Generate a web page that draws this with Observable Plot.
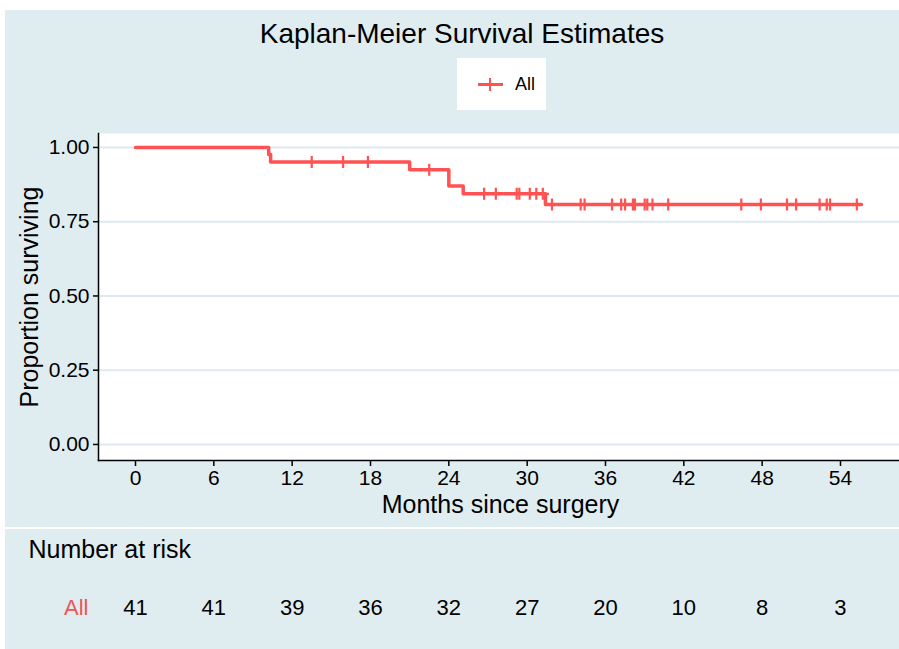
<!DOCTYPE html>
<html>
<head>
<meta charset="utf-8">
<script src="https://cdn.jsdelivr.net/npm/d3@7"></script>
<script src="https://cdn.jsdelivr.net/npm/@observablehq/plot@0.6"></script>
<style>
  html, body { margin: 0; padding: 0; background: #ffffff; }
  body { font-family: "Liberation Sans", Arial, Helvetica, sans-serif; }
  #panel { position: absolute; left: 5px; top: 10px; width: 894px; height: 639px; background: #ffffff; }
  #panel svg { display: block; }
  #gap { height: 2px; background: #ffffff; }
  #legend { position: absolute; left: 452px; top: 48px; width: 89px; height: 52px; background: #ffffff; }
  #legend .ln { position: absolute; left: 21px; top: 25px; width: 25px; height: 3px; background: #ff5252; }
  #legend .vt { position: absolute; left: 32px; top: 20px; width: 2px; height: 13px; background: #ff5252; }
  #legend span { position: absolute; left: 58px; top: 15px; font-size: 18px; line-height: 22px; color: #000; }
</style>
</head>
<body>
<div id="panel">
  <div id="topchart"></div>
  <div id="gap"></div>
  <div id="bottomchart"></div>
  <div id="legend"><div class="ln"></div><div class="vt"></div><span>All</span></div>
</div>
<script>
// ---- data ----
const titleText = "Kaplan-Meier Survival Estimates";
const yLabel = "Proportion surviving";
const xLabel = "Months since surgery";
const riskHeader = "Number at risk";
const groupName = "All";

const xTicks = [0, 6, 12, 18, 24, 30, 36, 42, 48, 54];
const yTicks = [0, 0.25, 0.5, 0.75, 1];

// Kaplan-Meier step curve (time in months, survival after that time)
const stepTimes = [0, 10.2, 10.35, 21.0, 24.0, 25.1, 31.4, 55.6];
const stepSurv  = [1.0, 0.976, 0.951, 0.925, 0.870, 0.844, 0.808, 0.808];

// censoring marks
const censorTimes = [13.5, 15.9, 17.8, 22.5,
  26.7, 27.6, 29.2, 29.4, 30.2, 30.7, 31.2,
  31.9, 34.1, 34.4, 36.5, 37.2, 37.5, 38.1, 38.25, 39.0, 39.2, 39.6, 40.8,
  46.4, 47.9, 49.9, 50.6, 52.4, 52.95, 53.2, 55.25];
const censorSurv = [0.951, 0.951, 0.951, 0.925,
  0.844, 0.844, 0.844, 0.844, 0.844, 0.844, 0.844,
  0.808, 0.808, 0.808, 0.808, 0.808, 0.808, 0.808, 0.808, 0.808, 0.808, 0.808, 0.808,
  0.808, 0.808, 0.808, 0.808, 0.808, 0.808, 0.808, 0.808];

// number at risk
const riskTimes = xTicks;
const riskCounts = [41, 41, 39, 36, 32, 27, 20, 10, 8, 3];

// ---- tables built from the arrays ----
const steps = stepTimes.map((t, i) => ({t, s: stepSurv[i]}));
const censors = censorTimes.map((t, i) => ({t, s: censorSurv[i]}));
const risk = riskTimes.map((t, i) => ({t, n: riskCounts[i]}));

const red = "#ff5252";
const bg = "#e0edf0";
const font = "'Liberation Sans', Arial, Helvetica, sans-serif";
const xDomain = [-2.834, 58.52];

const mainChart = Plot.plot({
  width: 894, height: 517,
  marginLeft: 93, marginRight: 0, marginTop: 123, marginBottom: 67,
  x: {domain: xDomain},
  y: {domain: [-0.054, 1.047]},
  style: {background: bg, fontFamily: font, fontSize: "21px", color: "#000", overflow: "visible"},
  marks: [
    Plot.frame({fill: "white", stroke: "none"}),
    Plot.gridY(yTicks, {stroke: "#dde9ee", strokeOpacity: 1, strokeWidth: 2}),
    Plot.axisY(yTicks, {tickFormat: d3.format(".2f"), tickSize: 5, tickPadding: 4, label: null, strokeWidth: 1.5}),
    Plot.axisX(xTicks, {tickSize: 6, tickPadding: 4, label: null, strokeWidth: 1.5}),
    Plot.line(steps, {x: "t", y: "s", curve: "step-after", stroke: red, strokeWidth: 3.5}),
    Plot.dot(censors, {x: "t", y: "s", symbol: "plus", r: 4, stroke: red, strokeWidth: 2.2}),
    Plot.frame({anchor: "left", stroke: "#000", strokeWidth: 1.5}),
    Plot.frame({anchor: "bottom", stroke: "#000", strokeWidth: 1.5}),
    Plot.text([titleText], {text: d => d, frameAnchor: "top", textAnchor: "middle", lineAnchor: "middle", dx: -37, dy: -99, fontSize: 28}),
    Plot.text([yLabel], {text: d => d, frameAnchor: "left", textAnchor: "middle", lineAnchor: "middle", rotate: -90, dx: -69, fontSize: 25}),
    Plot.text([xLabel], {text: d => d, frameAnchor: "bottom", textAnchor: "middle", lineAnchor: "middle", dx: 1.5, dy: 44, fontSize: 25})
  ]
});
document.getElementById("topchart").appendChild(mainChart);

const riskChart = Plot.plot({
  width: 894, height: 120,
  marginLeft: 93, marginRight: 0, marginTop: 0, marginBottom: 0,
  x: {domain: xDomain, axis: null},
  style: {background: bg, fontFamily: font, fontSize: "22px", color: "#000", overflow: "visible"},
  marks: [
    Plot.text([riskHeader], {text: d => d, frameAnchor: "top-left", textAnchor: "start", lineAnchor: "middle", dx: -70, dy: 20, fontSize: 25}),
    Plot.text([groupName], {text: d => d, frameAnchor: "top-left", textAnchor: "end", lineAnchor: "middle", dx: -10, dy: 78, fontSize: 22, fill: "#f05454"}),
    Plot.text(risk, {x: "t", text: "n", frameAnchor: "top", lineAnchor: "middle", dy: 78, fontSize: 22})
  ]
});
document.getElementById("bottomchart").appendChild(riskChart);
</script>
</body>
</html>
